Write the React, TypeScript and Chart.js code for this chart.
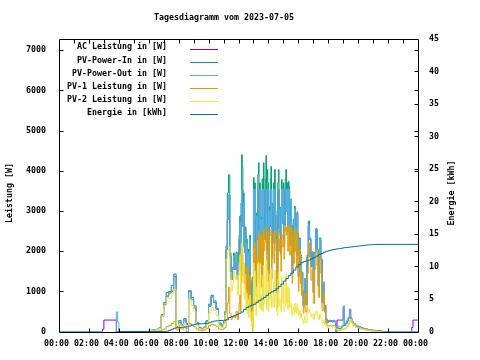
import React, { useEffect, useRef } from "react";
import { Chart, registerables } from "chart.js";
Chart.register(...registerables);

const FONT = "'DejaVu Sans Mono', 'Liberation Mono', monospace";
const FS = 8.3;
const FW = "bold";

const chartTitle = "Tagesdiagramm vom 2023-07-05";
const leftAxisTitle = "Leistung [W]";
const rightAxisTitle = "Energie [kWh]";

const seriesLabels = [
  "AC Leistung in [W]",
  "PV-Power-In in [W]",
  "PV-Power-Out in [W]",
  "PV-1 Leistung in [W]",
  "PV-2 Leistung in [W]",
  "Energie in [kWh]",
];
const seriesColors = ["#9400d3", "#009e73", "#56b4e9", "#e69f00", "#f0e442", "#0072b2"];

const powerTicks = [0, 1000, 2000, 3000, 4000, 5000, 6000, 7000];
const energyTicks = [0, 5, 10, 15, 20, 25, 30, 35, 40, 45];
const timeTicks = [0, 2, 4, 6, 8, 10, 12, 14, 16, 18, 20, 22, 24];
const timeTickLabels = ["00:00", "02:00", "04:00", "06:00", "08:00", "10:00", "12:00", "14:00", "16:00", "18:00", "20:00", "22:00", "00:00"];
const hourMinorTicks = [1, 2, 3, 4, 5, 6, 7, 8, 9, 10, 11, 12, 13, 14, 15, 16, 17, 18, 19, 20, 21, 22, 23];

// sample times of the five power series
const powerTimes = [
  "00:00", "02:55", "03:00", "03:45", "03:50", "03:55", "04:00",
  "06:00", "06:10", "06:20", "06:30", "06:40", "06:50",
  "07:00", "07:10", "07:20", "07:30", "07:40", "07:50",
  "08:00", "08:10", "08:20", "08:30", "08:40", "08:50",
  "09:00", "09:10", "09:20", "09:30", "09:40", "09:50",
  "10:00", "10:10", "10:20", "10:30", "10:40", "10:50",
  "11:00", "11:05", "11:10", "11:15", "11:20", "11:25", "11:30", "11:35", "11:40", "11:45", "11:50", "11:55",
  "12:00", "12:02:30", "12:05", "12:07:30", "12:10", "12:12:30",
  "12:15", "12:17:30", "12:20", "12:22:30", "12:25", "12:27:30",
  "12:30", "12:32:30", "12:35", "12:37:30", "12:40", "12:42:30",
  "12:45", "12:47:30", "12:50", "12:52:30", "12:55", "12:57:30",
  "13:00", "13:02:30", "13:05", "13:07:30", "13:10", "13:12:30",
  "13:15", "13:17:30", "13:20", "13:22:30", "13:25", "13:27:30",
  "13:30", "13:32:30", "13:35", "13:37:30", "13:40", "13:42:30",
  "13:45", "13:47:30", "13:50", "13:52:30", "13:55", "13:57:30",
  "14:00", "14:02:30", "14:05", "14:07:30", "14:10", "14:12:30",
  "14:15", "14:17:30", "14:20", "14:22:30", "14:25", "14:27:30",
  "14:30", "14:32:30", "14:35", "14:37:30", "14:40", "14:42:30",
  "14:45", "14:47:30", "14:50", "14:52:30", "14:55", "14:57:30",
  "15:00", "15:02:30", "15:05", "15:07:30", "15:10", "15:12:30",
  "15:15", "15:17:30", "15:20", "15:22:30", "15:25", "15:27:30",
  "15:30", "15:32:30", "15:35", "15:37:30", "15:40", "15:42:30",
  "15:45", "15:47:30", "15:50", "15:52:30", "15:55", "15:57:30",
  "16:00", "16:02:30", "16:05", "16:07:30", "16:10", "16:12:30",
  "16:15", "16:17:30", "16:20", "16:22:30", "16:25", "16:27:30",
  "16:30", "16:35", "16:40", "16:45", "16:50", "16:55",
  "17:00", "17:05", "17:10", "17:15", "17:20", "17:25", "17:30", "17:35", "17:40", "17:45", "17:50", "17:55",
  "18:00", "18:05", "18:10", "18:15", "18:20", "18:25", "18:30", "18:35", "18:40", "18:45", "18:50", "18:55",
  "19:00", "19:05", "19:10", "19:15", "19:20", "19:25", "19:30", "19:35", "19:40", "19:50",
  "20:00", "20:10", "20:20", "20:30", "20:40", "20:50",
  "21:00", "21:10", "21:20", "21:30", "21:40",
  "23:35", "23:40", "24:00",
];

const acPower = [
  0, 60, 285, 285, 0, 0, 0,
  20, 30, 40, 50, 80, 380,
  670, 880, 960, 1000, 1370, 100,
  240, 150, 290, 170, 1000, 790,
  590, 200, 80, 60, 100, 250,
  630, 860, 720, 550, 190, 140,
  220, 470, 2040, 2790, 3400, 1870, 1290, 1540, 1870, 1540, 1710, 1290,
  1710, 2290, 2710, 1490, 2890, 3530,
  3530, 2610, 3190, 2090, 1960, 2490,
  1440, 2190, 990, 1960, 850, 1540,
  2290, 1190, 590, 300, 1290, 0,
  3530, 2090, 3530, 2770, 1240, 2860,
  2290, 3530, 3530, 1740, 3530, 2190,
  2780, 1590, 3530, 1140, 3530, 2590,
  2290, 3530, 3530, 1990, 3530, 3530,
  1440, 2990, 2610, 3530, 3530, 1840,
  2390, 3110, 3530, 2190, 3530, 2890,
  2290, 1590, 970, 3530, 3530, 2490,
  3030, 2390, 1940, 3530, 3530, 2690,
  3530, 2190, 2640, 3530, 3530, 2990,
  3530, 2490, 3530, 3530, 2140, 2690,
  3280, 2390, 1440, 2590, 2780, 1990,
  3040, 2290, 2610, 1890, 2950, 2390,
  1370, 1990, 2290, 1490, 1870, 1190,
  1460, 890, 630, 990, 1290, 790,
  670, 1840, 2640, 2290, 1620, 1950,
  970, 1950, 2530, 2040, 1130, 2290, 1790, 715, 1210, 630, 300, 220,
  250, 260, 250, 240, 260, 240, 0, 285, 285, 285, 285, 285,
  600, 160, 210, 270, 340, 550, 310, 230, 190, 140,
  110, 90, 70, 55, 40, 30,
  30, 20, 20, 10, 0,
  100, 285, 285,
];

const pvPowerIn = [
  null, null, null, null, null, null, null,
  25, 35, 45, 60, 90, 420,
  720, 970, 1000, 1150, 1430, 120,
  270, 170, 320, 200, 1020, 850,
  640, 220, 100, 80, 110, 270,
  680, 900, 760, 580, 210, 160,
  250, 500, 2130, 3450, 3900, 1950, 1350, 1600, 1950, 1700, 1970, 1350,
  1970, 2400, 2870, 1550, 3200, 4400,
  4100, 2700, 3450, 2150, 2050, 2600,
  1500, 2300, 1050, 2050, 900, 1600,
  2400, 1250, 620, 330, 1350, 0,
  3830, 2150, 3700, 2870, 1300, 2950,
  2400, 3900, 4200, 1800, 3700, 2250,
  2850, 1650, 3800, 1200, 4200, 2700,
  2350, 3800, 4380, 2050, 4030, 3700,
  1500, 3100, 2650, 3800, 4110, 1900,
  2450, 3200, 3700, 2250, 4030, 3000,
  2350, 1650, 1000, 3700, 4030, 2550,
  3100, 2450, 2000, 3780, 3600, 2750,
  3700, 2250, 2700, 3800, 4030, 3100,
  3700, 2550, 3740, 3600, 2200, 2750,
  3300, 2450, 1500, 2650, 2800, 2050,
  3120, 2350, 2650, 1950, 2980, 2450,
  1400, 2050, 2330, 1550, 1900, 1220,
  1480, 920, 650, 1020, 1320, 820,
  700, 1900, 2750, 2330, 1650, 1980,
  1000, 1980, 2560, 2050, 1150, 2330, 1800, 730, 1230, 650, 320, 240,
  270, 280, 270, 260, 280, 260, 120, 100, 80, 60, 90, 130,
  150, 145, 200, 260, 330, 350, 340, 250, 185, 140,
  110, 90, 70, 60, 45, 35,
  25, 15, 10, 5, 0,
  null, null, null,
];

const pvPowerOut = [
  0, 0, null, 0, 490, 235, 0,
  20, 30, 40, 50, 80, 390,
  680, 890, 970, 1010, 1380, 100,
  250, 150, 300, 0, 1010, 800,
  600, 200, 80, 60, 100, 250,
  640, 870, 730, 560, 190, 140,
  230, 480, 2050, 2800, 3410, 1880, 1300, 1550, 1880, 1550, 1720, 1300,
  1720, 2300, 2720, 1500, 2900, 3540,
  3540, 2620, 3200, 2100, 1970, 2500,
  1450, 2200, 1000, 1970, 860, 1550,
  2300, 1200, 600, 310, 1300, 0,
  3540, 2100, 3540, 2780, 1250, 2870,
  2300, 3540, 3540, 1750, 3540, 2200,
  2790, 1600, 3540, 1150, 3540, 2600,
  2300, 3540, 3540, 2000, 3540, 3540,
  1450, 3000, 2620, 3540, 3540, 1850,
  2400, 3120, 3540, 2200, 3540, 2900,
  2300, 1600, 980, 3540, 3540, 2500,
  3040, 2400, 1950, 3540, 3540, 2700,
  3540, 2200, 2650, 3540, 3540, 3000,
  3540, 2500, 3540, 3540, 2150, 2700,
  3290, 2400, 1450, 2600, 2790, 2000,
  3050, 2300, 2620, 1900, 2960, 2400,
  1380, 2000, 2300, 1500, 1880, 1200,
  1470, 900, 640, 1000, 1300, 800,
  680, 1850, 2650, 2300, 1630, 1960,
  980, 1960, 2540, 2050, 1140, 2300, 1800, 725, 1220, 640, 310, 230,
  260, 270, 260, 250, 270, 250, 0, 150, 130, 120, 120, 150,
  640, 170, 220, 280, 350, 560, 320, 240, 200, 150,
  120, 95, 75, 60, 45, 35,
  25, 15, 10, 5, 0,
  0, 0, 0,
];

const pv1Power = [
  null, null, null, null, null, null, null,
  5, 5, 10, 10, 15, 40,
  60, 120, 150, 200, 250, 40,
  80, 60, 100, 70, 200, 150,
  120, 60, 30, 20, 40, 80,
  150, 180, 160, 120, 60, 50,
  70, 100, 300, 700, 1100, 450, 300, 350, 400, 350, 500, 300,
  500, 700, 900, 500, 1200, 2100,
  1900, 1400, 1700, 1200, 1630, 1500,
  900, 1300, 600, 1630, 500, 900,
  1400, 700, 350, 200, 800, 0,
  2100, 1500, 2200, 1800, 900, 1850,
  1700, 2300, 2500, 1200, 2400, 1700,
  2380, 1100, 2400, 700, 2550, 2000,
  2210, 2400, 2600, 1500, 2500, 2450,
  1000, 2200, 2380, 2400, 2550, 1300,
  1800, 2300, 2450, 1700, 2500, 2200,
  2000, 1200, 600, 2400, 2550, 2000,
  2300, 1900, 1500, 2400, 2400, 2100,
  2450, 1800, 2620, 2500, 2600, 2400,
  2600, 2000, 2650, 2550, 1900, 2300,
  2600, 2000, 1200, 2300, 2500, 1700,
  2600, 2000, 2400, 1600, 2500, 2100,
  1000, 1600, 2050, 1200, 1450, 900,
  1150, 650, 450, 700, 950, 550,
  480, 1450, 2200, 1850, 1280, 1550,
  700, 1550, 2050, 1650, 850, 1900, 1450, 520, 950, 480, 200, 150,
  140, 150, 140, 140, 150, 140, 60, 50, 40, 30, 40, 60,
  60, 60, 90, 120, 180, 260, 290, 200, 150, 100,
  80, 60, 45, 35, 25, 15,
  10, 5, 0, 0, 0,
  null, null, null,
];

const pv2Power = [
  null, null, null, null, null, null, null,
  20, 30, 35, 50, 75, 380,
  650, 850, 820, 950, 1050, 80,
  180, 100, 200, 120, 800, 650,
  500, 150, 70, 60, 70, 180,
  450, 600, 520, 400, 130, 100,
  180, 400, 1800, 2000, 2100, 1475, 1000, 1200, 1500, 1300, 1400, 900,
  1400, 1650, 1900, 1000, 1950, 2200,
  2100, 1250, 1700, 900, 800, 1050,
  550, 950, 450, 800, 350, 650,
  900, 500, 250, 120, 500, 0,
  1700, 650, 1500, 1050, 400, 1100,
  700, 1600, 1700, 600, 1300, 550,
  900, 550, 1400, 500, 1650, 700,
  800, 1400, 1780, 550, 1530, 1250,
  500, 900, 800, 1400, 1560, 600,
  700, 900, 1250, 600, 1530, 800,
  700, 500, 400, 1300, 1480, 650,
  800, 600, 500, 1380, 1200, 700,
  1250, 500, 600, 1300, 1430, 700,
  1100, 550, 1090, 1050, 600, 650,
  700, 500, 400, 550, 600, 450,
  700, 500, 600, 450, 700, 550,
  400, 450, 530, 350, 450, 330,
  330, 250, 200, 300, 370, 250,
  220, 450, 550, 480, 370, 430,
  300, 430, 510, 400, 300, 430, 350, 210, 280, 170, 120, 90,
  120, 120, 120, 110, 120, 110, 60, 50, 40, 30, 50, 70,
  70, 70, 95, 130, 190, 270, 300, 210, 160, 105,
  85, 65, 50, 40, 28, 18,
  12, 6, 0, 0, 0,
  null, null, null,
];

const energyTimes = [
  "04:00", "07:00", "07:10", "07:20", "07:30", "07:40", "07:50",
  "08:00", "08:10", "08:20", "08:30", "08:40", "08:50",
  "09:00", "09:10", "09:20", "09:30", "09:40", "09:50",
  "10:00", "10:10", "10:20", "10:30", "10:40", "10:50",
  "11:00", "11:10", "11:20", "11:30", "11:40", "11:50",
  "12:00", "12:10", "12:20", "12:30", "12:40", "12:50",
  "13:00", "13:10", "13:20", "13:30", "13:40", "13:50",
  "14:00", "14:10", "14:20", "14:30", "14:40", "14:50",
  "15:00", "15:10", "15:20", "15:30", "15:40", "15:50",
  "16:00", "16:10", "16:20", "16:30", "16:40", "16:50",
  "17:00", "17:10", "17:20", "17:30", "17:40", "17:50",
  "18:00", "18:10", "18:20", "18:30", "18:40", "18:50",
  "19:00", "19:10", "19:20", "19:30", "19:40", "19:50",
  "20:00", "20:10", "20:20", "20:30", "20:40", "20:50",
  "21:00", "21:10", "24:00",
];

const energyKWh = [
  0, 0, 0.05, 0.2, 0.35, 0.5, 0.6,
  0.62, 0.65, 0.7, 0.72, 0.85, 1.0,
  1.1, 1.15, 1.2, 1.2, 1.22, 1.25,
  1.35, 1.5, 1.6, 1.65, 1.68, 1.7,
  1.72, 1.8, 2.15, 2.3, 2.4, 2.6,
  2.8, 3.0, 3.4, 3.7, 3.9, 4.05,
  4.2, 4.5, 4.75, 5.0, 5.25, 5.55,
  5.9, 6.1, 6.3, 6.6, 6.9, 7.3,
  7.75, 8.15, 8.6, 9.0, 9.45, 9.9,
  10.3, 10.6, 10.75, 10.85, 11.0, 11.2,
  11.4, 11.6, 11.85, 12.0, 12.2, 12.35,
  12.45, 12.55, 12.62, 12.7, 12.75, 12.8,
  12.9, 12.92, 12.97, 13.02, 13.08, 13.12,
  13.15, 13.2, 13.25, 13.3, 13.32, 13.35,
  13.38, 13.4, 13.4,
];

function toHours(t: string): number {
  const p = t.split(":").map(Number);
  return p[0] + p[1] / 60 + (p[2] || 0) / 3600;
}

const framePlugin = {
  id: "gnuplotFrame",
  beforeDraw(chart: any) {
    const c = chart.ctx;
    c.save();
    c.fillStyle = "#ffffff";
    c.fillRect(0, 0, chart.width, chart.height);
    c.restore();
  },
  afterDraw(chart: any) {
    const c = chart.ctx;
    const a = chart.chartArea;
    const sx = chart.scales.x;
    const sy = chart.scales.y;
    const sy2 = chart.scales.y2;
    const L = Math.round(a.left) + 0.5;
    const R = Math.round(a.right) + 0.5;
    const T = Math.round(a.top) + 0.5;
    const B = Math.round(a.bottom) + 0.5;
    c.save();
    c.strokeStyle = "#000";
    c.lineWidth = 1;
    c.beginPath();
    c.rect(L, T, R - L, B - T);
    powerTicks.forEach((v) => {
      if (v === 0) return;
      const y = Math.round(sy.getPixelForValue(v)) + 0.5;
      c.moveTo(L, y); c.lineTo(L + 4, y);
      c.moveTo(R, y); c.lineTo(R - 4, y);
    });
    energyTicks.forEach((v) => {
      if (v === 0 || v === 45) return;
      const y = Math.round(sy2.getPixelForValue(v)) + 0.5;
      c.moveTo(R, y); c.lineTo(R - 4, y);
    });
    timeTicks.forEach((v) => {
      if (v === 0 || v === 24) return;
      const x = Math.round(sx.getPixelForValue(v)) + 0.5;
      c.moveTo(x, B); c.lineTo(x, B - 4);
    });
    hourMinorTicks.forEach((v) => {
      const x = Math.round(sx.getPixelForValue(v)) + 0.5;
      c.moveTo(x, T); c.lineTo(x, T + 4);
    });
    c.stroke();

    c.fillStyle = "#000";
    c.font = `${FW} ${FS}px ${FONT}`;
    c.textBaseline = "middle";
    c.textAlign = "center";
    c.fillText(chartTitle, 224, 18);

    seriesLabels.forEach((lab, i) => {
      c.textAlign = "right";
      c.fillStyle = "#000";
      c.fillText(lab, 167, 47.3 + 13.05 * i);
      const y = Math.round(49 + 13.05 * i) + 0.5;
      c.strokeStyle = seriesColors[i];
      c.beginPath();
      c.moveTo(190, y);
      c.lineTo(218, y);
      c.stroke();
    });

    c.fillStyle = "#000";
    c.textAlign = "center";
    c.save();
    c.translate(10, 193);
    c.rotate(-Math.PI / 2);
    c.fillText(leftAxisTitle, 0, 0);
    c.restore();
    c.save();
    c.translate(452, 193);
    c.rotate(-Math.PI / 2);
    c.fillText(rightAxisTitle, 0, 0);
    c.restore();
    c.restore();
  },
};

export default function App() {
  const ref = useRef<HTMLCanvasElement | null>(null);
  useEffect(() => {
    if (!ref.current) return;
    const px = powerTimes.map(toHours);
    const ex = energyTimes.map(toHours);
    const mk = (xs: number[], vals: (number | null)[]) => xs.map((x, i) => ({ x, y: vals[i] }));
    const seriesData = [
      mk(px, acPower),
      mk(px, pvPowerIn),
      mk(px, pvPowerOut),
      mk(px, pv1Power),
      mk(px, pv2Power),
      mk(ex, energyKWh),
    ];
    const datasets = seriesData.map((data, i) => ({
      label: seriesLabels[i],
      data,
      borderColor: seriesColors[i],
      backgroundColor: seriesColors[i],
      borderWidth: 1,
      pointRadius: 0,
      stepped: true,
      fill: false,
      spanGaps: false,
      yAxisID: i === 5 ? "y2" : "y",
      order: 6 - i,
    }));
    const tickFont = { family: FONT, size: FS, weight: FW };
    const chart = new Chart(ref.current, {
      type: "line",
      data: { datasets } as any,
      options: {
        animation: false,
        responsive: false,
        devicePixelRatio: 1,
        events: [],
        layout: { padding: { top: 39, left: 0, right: 0, bottom: 0 } },
        plugins: { legend: { display: false }, title: { display: false }, tooltip: { enabled: false } },
        scales: {
          x: {
            type: "linear",
            min: 0,
            max: 24,
            grid: { display: false, drawTicks: false },
            border: { display: false },
            afterBuildTicks: (s: any) => { s.ticks = timeTicks.map((v) => ({ value: v })); },
            afterFit: (s: any) => { s.height = 28; },
            ticks: {
              autoSkip: false,
              maxRotation: 0,
              minRotation: 0,
              padding: 7,
              labelOffset: -2.5,
              color: "#000",
              font: tickFont,
              callback: (_v: any, i: number) => timeTickLabels[i],
            },
          },
          y: {
            type: "linear",
            position: "left",
            min: -12,
            max: 7280,
            grid: { display: false, drawTicks: false },
            border: { display: false },
            afterBuildTicks: (s: any) => { s.ticks = powerTicks.map((v) => ({ value: v })); },
            afterFit: (s: any) => { s.width = 59; },
            ticks: { padding: 13, color: "#000", font: tickFont, callback: (v: any) => String(v) },
          },
          y2: {
            type: "linear",
            position: "right",
            min: -0.077,
            max: 45,
            grid: { display: false, drawTicks: false },
            border: { display: false },
            afterBuildTicks: (s: any) => { s.ticks = energyTicks.map((v) => ({ value: v })); },
            afterFit: (s: any) => { s.width = 62; },
            ticks: { padding: 11, color: "#000", font: tickFont, callback: (v: any) => String(v) },
          },
        },
      } as any,
      plugins: [framePlugin],
    });
    return () => chart.destroy();
  }, []);
  return (
    <canvas
      ref={ref}
      width={480}
      height={360}
      style={{ position: "fixed", left: 0, top: 0, width: 480, height: 360, display: "block" }}
    />
  );
}
